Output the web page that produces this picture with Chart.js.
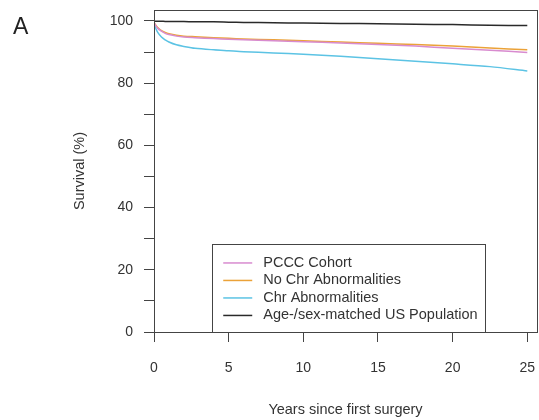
<!DOCTYPE html>
<html>
<head>
<meta charset="utf-8">
<script src="https://cdn.jsdelivr.net/npm/chart.js@4/dist/chart.umd.min.js"></script>
<style>
  html, body { margin: 0; padding: 0; background: #fff; }
  #wrap { width: 539px; height: 420px; position: relative; }
</style>
</head>
<body>
<div id="wrap"><canvas id="survChart" width="539" height="420"></canvas></div>
<script>
// years since first surgery
var years = [0, 0.1, 0.25, 0.5, 0.75, 1, 1.5, 2, 2.75, 4, 5, 6, 8, 10, 12.5, 15, 17.5, 20, 22.5, 25];

// survival (%) per group
var pcccCohort   = [99.5, 98.6, 97.6, 96.7, 96.0, 95.6, 95.1, 94.8, 94.6, 94.3, 94.1, 93.9, 93.6, 93.3, 92.9, 92.4, 91.9, 91.2, 90.6, 89.8];
var noChrAbn     = [99.5, 98.8, 97.9, 96.9, 96.3, 95.9, 95.4, 95.1, 94.9, 94.6, 94.4, 94.2, 93.9, 93.6, 93.2, 92.8, 92.4, 91.9, 91.3, 90.7];
var chrAbn       = [99.5, 97.8, 96.3, 94.8, 93.9, 93.2, 92.3, 91.8, 91.2, 90.7, 90.4, 90.1, 89.7, 89.3, 88.6, 87.8, 87.0, 86.2, 85.3, 83.9];
var usPopulation = [99.9, 99.9, 99.9, 99.9, 99.8, 99.8, 99.8, 99.8, 99.7, 99.7, 99.6, 99.5, 99.4, 99.3, 99.2, 99.1, 98.9, 98.8, 98.6, 98.5];

var seriesNames = ['PCCC Cohort', 'No Chr Abnormalities', 'Chr Abnormalities', 'Age-/sex-matched US Population'];
var seriesColors = ['#d88bcf', '#eba238', '#5cc3e4', '#2a2a2a'];

var xTicks = [0, 5, 10, 15, 20, 25];
var yTicks = [0, 10, 20, 30, 40, 50, 60, 70, 80, 90, 100];
var yLabels = [0, 20, 40, 60, 80, 100];

function toPoints(vals){
	return years.map(function(x, i){ return {x: x, y: vals[i]}; });
}

var allSeries = [pcccCohort, noChrAbn, chrAbn, usPopulation];
var datasets = allSeries.map(function(vals, i){
	return {
		label: seriesNames[i],
		data: toPoints(vals),
		borderColor: seriesColors[i],
		backgroundColor: seriesColors[i],
		borderWidth: 1.5,
		pointRadius: 0,
		tension: 0.3,
		fill: false,
		order: i
	};
});

var fontFam = '"Liberation Sans", Arial, Helvetica, sans-serif';

// box around plot, inner legend box and panel letter
var framePlugin = {
	id: 'framePlugin',
	afterDraw: function(chart){
		var ctx = chart.ctx;
		var a = chart.chartArea;
		var xs = chart.scales.x, ys = chart.scales.y;
		ctx.save();
		ctx.strokeStyle = '#444';
		ctx.lineWidth = 1;
		ctx.strokeRect(Math.round(a.left) + 0.5, Math.round(a.top) + 0.5, Math.round(a.right - a.left), Math.round(a.bottom - a.top));

		// legend box
		var lx = xs.getPixelForValue(3.9);
		var ly = ys.getPixelForValue(28.3);
		var rx = xs.getPixelForValue(22.15);
		var by = a.bottom;
		ctx.fillStyle = '#fff';
		ctx.fillRect(lx, ly, rx - lx, by - ly);
		ctx.strokeRect(Math.round(lx) + 0.5, Math.round(ly) + 0.5, Math.round(rx - lx), Math.round(by - ly));
		ctx.font = '14.5px ' + fontFam;
		ctx.textBaseline = 'middle';
		ctx.textAlign = 'left';
		for (var i = 0; i < seriesNames.length; i++) {
			var yy = ly + 19 + i * 17.5;
			ctx.strokeStyle = seriesColors[i];
			ctx.lineWidth = 1.5;
			ctx.beginPath();
			ctx.moveTo(lx + 11, yy);
			ctx.lineTo(lx + 40, yy);
			ctx.stroke();
			ctx.fillStyle = '#333';
			ctx.fillText(seriesNames[i], lx + 51, yy);
		}

		ctx.fillStyle = '#222';
		ctx.font = '23px ' + fontFam;
		ctx.textBaseline = 'alphabetic';
		ctx.fillText('A', 13, 34);
		ctx.restore();
	}
};

new Chart(document.getElementById('survChart'), {
	type: 'line',
	data: { datasets: datasets },
	options: {
		responsive: false,
		animation: false,
		layout: { padding: { top: 10, right: 2, bottom: 0, left: 0 } },
		plugins: { legend: { display: false }, tooltip: { enabled: false } },
		scales: {
			x: {
				type: 'linear',
				min: 0,
				max: 25.65,
				afterBuildTicks: function(s){ s.ticks = xTicks.map(function(v){ return {value: v}; }); },
				afterFit: function(s){ s.height = 88; s.paddingLeft = 0; s.paddingRight = 0; },
				border: { display: false },
				grid: { display: true, drawOnChartArea: false, drawTicks: true, tickLength: 10, color: '#444', lineWidth: 1 },
				ticks: { color: '#333', font: { size: 14, family: fontFam }, padding: 18, maxRotation: 0 },
				title: { display: true, text: 'Years since first surgery', color: '#333', font: { size: 14.5, family: fontFam }, padding: { top: 0, bottom: 1 } }
			},
			y: {
				min: 0,
				max: 103.5,
				afterBuildTicks: function(s){ s.ticks = yTicks.map(function(v){ return {value: v}; }); },
				afterFit: function(s){ s.width = 154; s.paddingTop = 0; s.paddingBottom = 0; },
				border: { display: false },
				grid: { display: true, drawOnChartArea: false, drawTicks: true, tickLength: 10, color: '#444', lineWidth: 1 },
				ticks: {
					color: '#333',
					font: { size: 14, family: fontFam },
					padding: 11,
					autoSkip: false,
					callback: function(v){ return yLabels.indexOf(v) >= 0 ? String(v) : ''; }
				},
				title: { display: true, text: 'Survival (%)', color: '#333', font: { size: 14.5, family: fontFam }, padding: { top: 71, bottom: 0 } }
			}
		}
	},
	plugins: [framePlugin]
});
</script>
</body>
</html>
